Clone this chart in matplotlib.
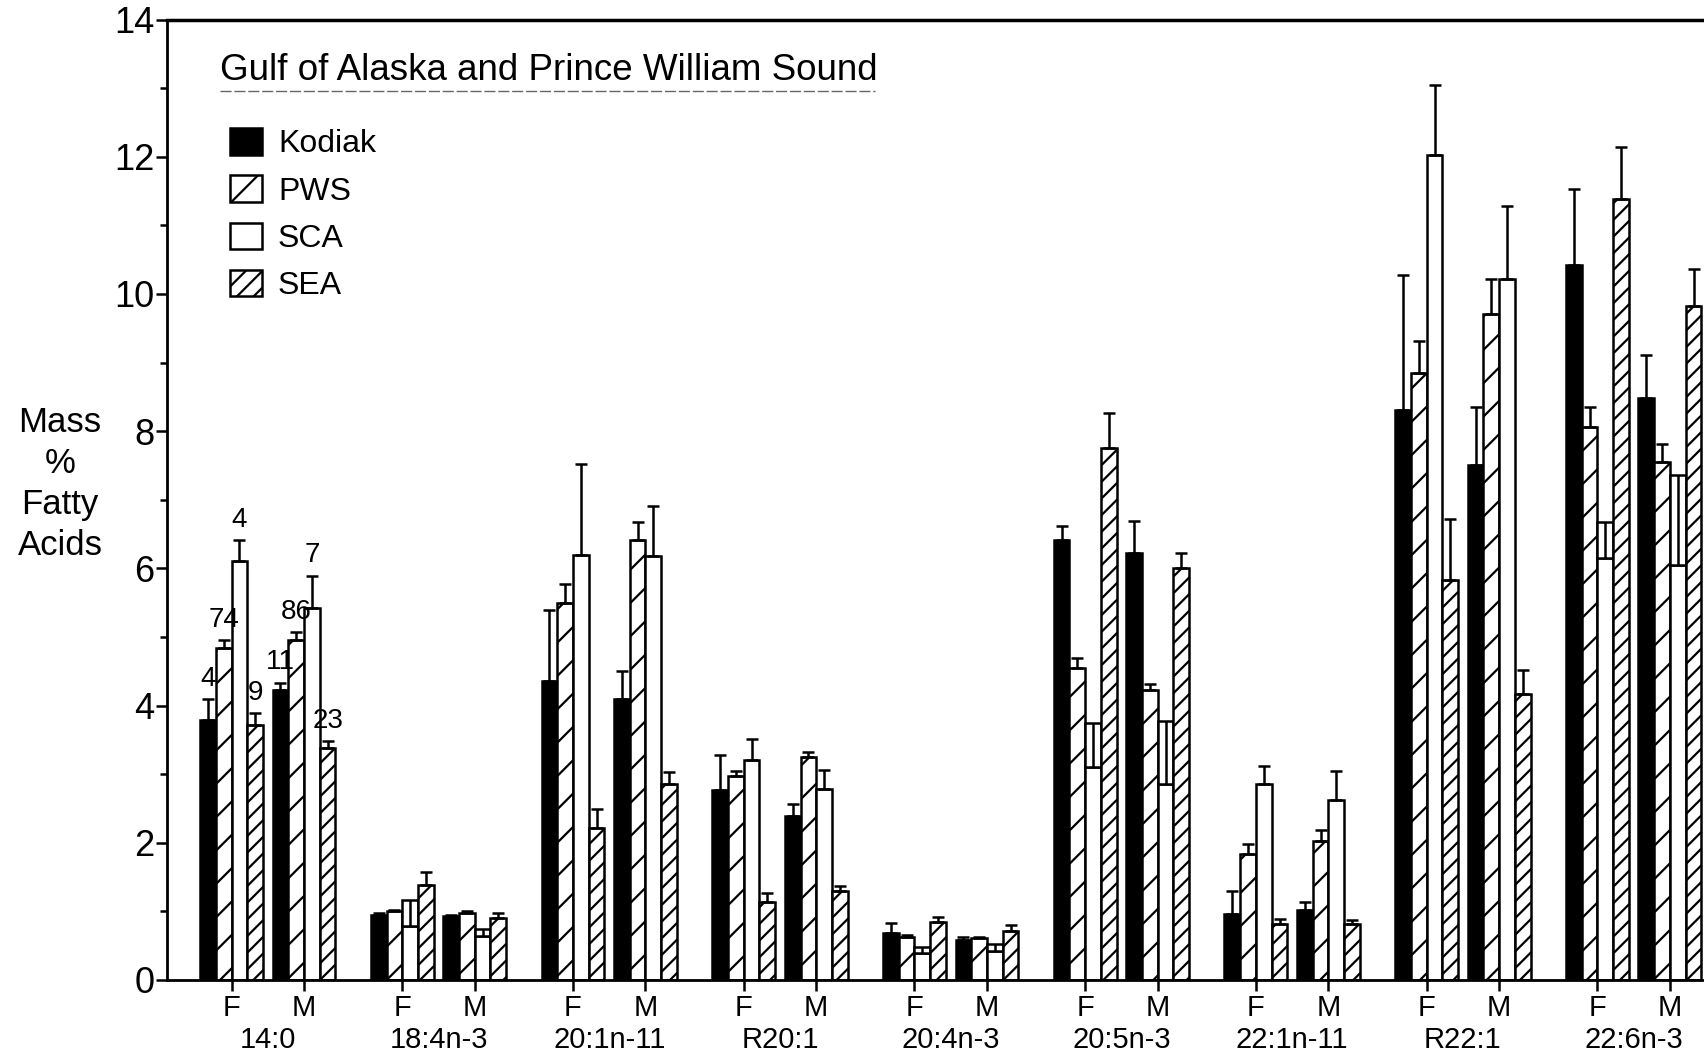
import numpy as np
import matplotlib
matplotlib.use("Agg")
import matplotlib.pyplot as plt
from matplotlib.lines import Line2D
from matplotlib.transforms import blended_transform_factory

# fatty acids, each split into females (F) and males (M)
acids = ["14:0", "18:4n-3", "20:1n-11", "R20:1", "20:4n-3",
         "20:5n-3", "22:1n-11", "R22:1", "22:6n-3"]
sexes = ["F", "M"]

# mean mass % (order: acid1 F, acid1 M, acid2 F, ...)
kodiak = [3.79, 4.23, 0.95, 0.93, 4.36, 4.09, 2.77, 2.39, 0.68, 0.58,
          6.42, 6.23, 0.96, 1.02, 8.31, 7.50, 10.43, 8.49]
pws = [4.84, 4.95, 1.00, 0.98, 5.50, 6.41, 2.97, 3.25, 0.63, 0.61,
       4.55, 4.22, 1.84, 2.03, 8.85, 9.71, 8.06, 7.55]
sca = [6.11, 5.42, 0.79, 0.64, 6.20, 6.18, 3.20, 2.78, 0.39, 0.42,
       3.11, 2.86, 2.85, 2.62, 12.02, 10.22, 6.15, 6.05]
sea = [3.72, 3.38, 1.39, 0.91, 2.22, 2.86, 1.13, 1.30, 0.84, 0.72,
       7.75, 6.01, 0.81, 0.81, 5.83, 4.17, 11.39, 9.82]

# standard errors
kodiak_se = [0.30, 0.10, 0.02, 0.02, 1.03, 0.41, 0.51, 0.18, 0.15, 0.05,
             0.20, 0.46, 0.33, 0.11, 1.97, 0.85, 1.10, 0.62]
pws_se = [0.11, 0.12, 0.02, 0.03, 0.27, 0.27, 0.07, 0.07, 0.02, 0.02,
          0.15, 0.10, 0.14, 0.16, 0.46, 0.51, 0.29, 0.27]
sca_se = [0.30, 0.47, 0.37, 0.10, 1.32, 0.73, 0.31, 0.28, 0.09, 0.10,
          0.63, 0.92, 0.27, 0.43, 1.02, 1.07, 0.52, 1.31]
sea_se = [0.17, 0.10, 0.18, 0.06, 0.27, 0.17, 0.14, 0.07, 0.08, 0.08,
          0.51, 0.21, 0.08, 0.06, 0.89, 0.35, 0.76, 0.54]

# SCA errors drawn as an open box on top of the bar
sca_box = [2, 3, 8, 9, 10, 11, 16, 17]

# sample sizes shown over 14:0
n_kodiak = [4, 11]
n_pws = [74, 86]
n_sca = [4, 7]
n_sea = [9, 23]

title = "Gulf of Alaska and Prince William Sound"

plt.rcParams["font.family"] = ["Liberation Sans", "DejaVu Sans"]
plt.rcParams["hatch.linewidth"] = 1.6
LW = 1.8

fig = plt.figure(figsize=(17.04, 10.6), dpi=100)
ax = fig.add_axes([0.098, 0.0755, 0.902, 0.906])

f_pos = np.arange(len(acids)) * 2.355
centers = np.column_stack([f_pos, f_pos + 1.0]).ravel()
width = 0.217
offsets = (np.arange(4) - 1.5) * width

series = [
    ("Kodiak", kodiak, kodiak_se, n_kodiak, dict(facecolor="black")),
    ("PWS", pws, pws_se, n_pws, dict(facecolor="white", hatch="/")),
    ("SCA", sca, sca_se, n_sca, dict(facecolor="white")),
    ("SEA", sea, sea_se, n_sea, dict(facecolor="white", hatch="//")),
]

for k, (name, vals, se, counts, style) in enumerate(series):
    x = centers + offsets[k]
    vals = np.array(vals)
    se = np.array(se)
    ax.bar(x, vals, width, edgecolor="black", linewidth=LW, label=name, **style)

    keep = np.ones(len(vals), bool)
    if name == "SCA":
        keep[sca_box] = False
        ax.bar(x[sca_box], se[sca_box], width, bottom=vals[sca_box],
               facecolor="white", edgecolor="black", linewidth=LW)
        ax.vlines(x[sca_box], vals[sca_box], vals[sca_box] + se[sca_box],
                  color="black", linewidth=LW)
    ax.errorbar(x[keep], vals[keep], yerr=[np.zeros(keep.sum()), se[keep]],
                fmt="none", ecolor="black", elinewidth=LW, capsize=4, capthick=LW)

    for j, n in enumerate(counts):
        ax.text(x[j], vals[j] + se[j] + 0.3, str(n), ha="center", va="center",
                fontsize=20)

ax.set_xlim(-0.89, 20.31)
ax.set_ylim(0, 14)

ax.set_yticks(range(0, 15, 2))
ax.set_yticks(range(1, 14, 2), minor=True)
ax.set_xticks(centers, sexes * len(acids))
ax.tick_params(axis="y", which="major", direction="out", length=8, width=LW,
               labelsize=26, pad=1)
ax.tick_params(axis="y", which="minor", direction="out", length=5, width=LW)
ax.tick_params(axis="x", direction="out", length=8, width=LW, labelsize=21, pad=2)

ax.spines["right"].set_visible(False)
ax.spines["top"].set_linewidth(2.5)
ax.spines["left"].set_linewidth(2.0)
ax.spines["bottom"].set_linewidth(2.0)

trans = blended_transform_factory(ax.transData, fig.transFigure)
for f, name in zip(f_pos, acids):
    ax.text(f + 0.5, 1 - 1048 / 1060, name, ha="center", va="baseline",
            fontsize=21, transform=trans)

fig.text(60 / 1704, 1 - 484 / 1060, "Mass\n%\nFatty\nAcids", ha="center",
         va="center", fontsize=25, linespacing=1.3)

fig.text(220 / 1704, 1 - 70 / 1060, title, ha="left", va="center",
         fontsize=26.5)
fig.add_artist(Line2D([220 / 1704, 875 / 1704], [1 - 91 / 1060] * 2,
                      transform=fig.transFigure, color="0.4", lw=1,
                      ls=(0, (8, 2))))

ax.legend(loc="upper left", bbox_to_anchor=(230 / 1704, 1 - 128 / 1060),
          bbox_transform=fig.transFigure, frameon=False, fontsize=23,
          handlelength=1.0, handleheight=0.9, handletextpad=0.5,
          labelspacing=0.5, borderpad=0, borderaxespad=0)

fig.savefig("out.png", dpi=100)
